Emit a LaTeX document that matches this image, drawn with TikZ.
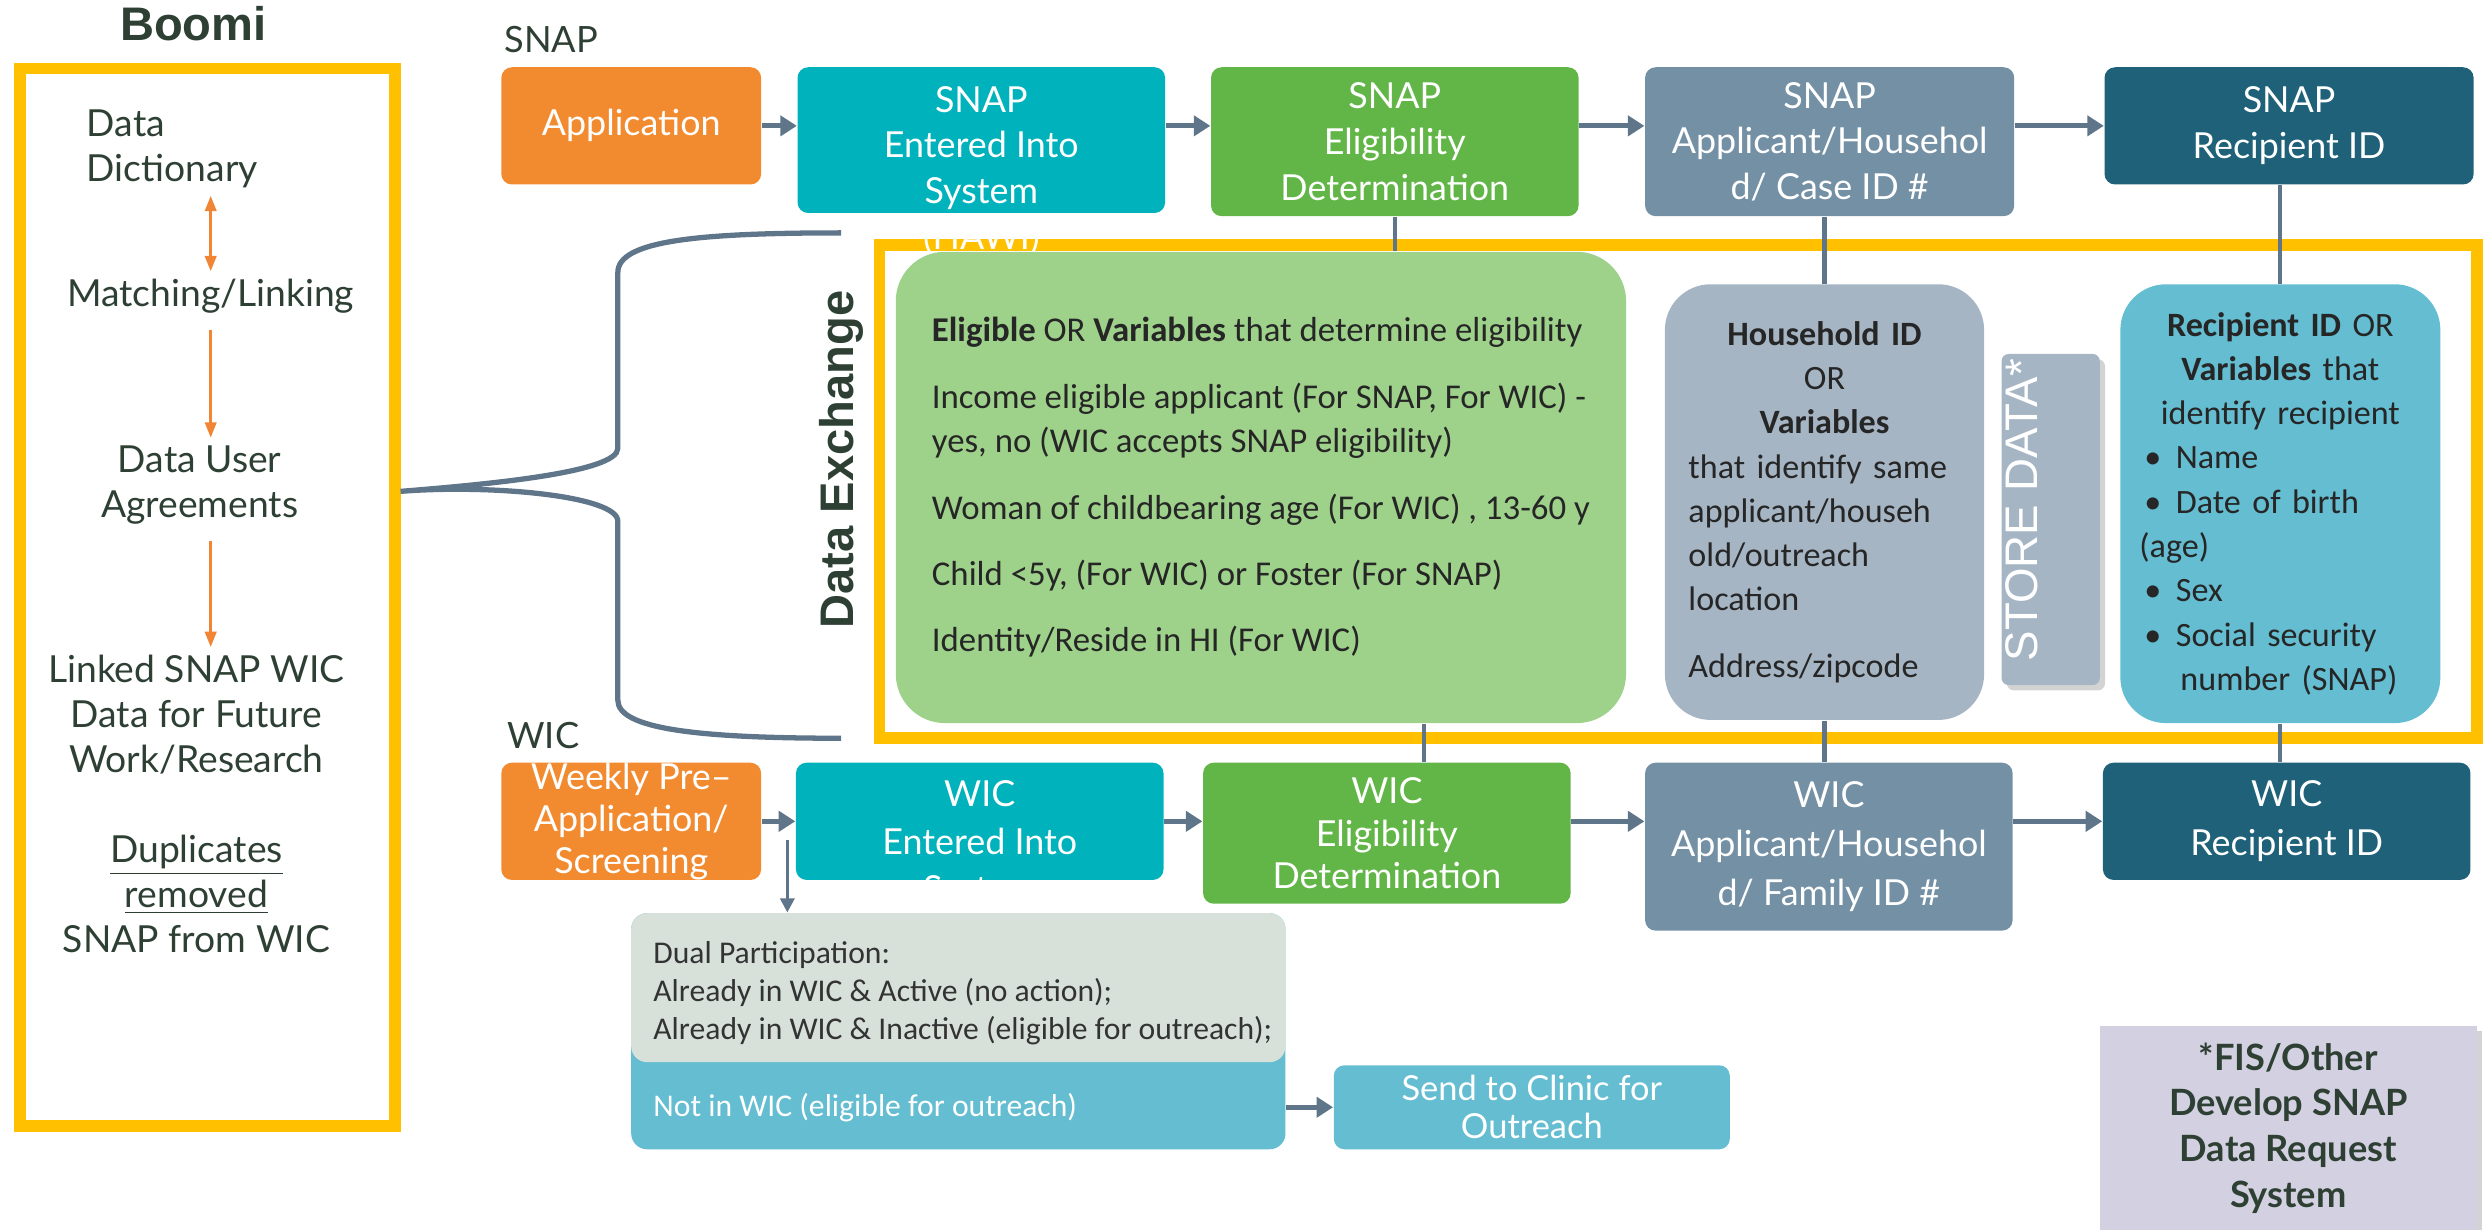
\documentclass[tikz,border=0pt]{standalone}
\usepackage{fontspec}
\setmainfont{Lato}
\newfontfamily\calibrifont{Carlito}
\newfontfamily\arialfont{Liberation Sans}
\usetikzlibrary{calc,positioning,arrows.meta,shadows}
\setlength{\parindent}{0pt}
\definecolor{boomiyellow}{HTML}{FFC000}
\definecolor{apporange}{HTML}{F28B30}
\definecolor{entteal}{HTML}{00B2BB}
\definecolor{eliggreen}{HTML}{62B647}
\definecolor{idslate}{HTML}{7390A5}
\definecolor{rcpteal}{HTML}{1E6178}
\definecolor{varsgreen}{HTML}{9ED28B}
\definecolor{hhgray}{HTML}{A5B5C4}
\definecolor{rcpblue}{HTML}{64BDD1}
\definecolor{dualgray}{HTML}{D7E1DA}
\definecolor{fislav}{HTML}{D3D1E1}
\definecolor{linkslate}{HTML}{5F7589}
\definecolor{arrorange}{HTML}{F08535}
\definecolor{darktext}{HTML}{2E4034}
\newcommand{\rcpbullet}{\hspace*{1.4pt}\makebox[9pt][l]{\textbullet}}
\tikzset{
    boxsize/.style 2 args={minimum width=#1*0.01584cm, minimum height=#2*0.01584cm},
    yellowframe/.style={draw=boomiyellow, line width=3.3pt, anchor=north west, inner sep=0pt},
    titletext/.style={font=\arialfont\bfseries\fontsize{13.4}{16}\selectfont, text=darktext, inner sep=0pt},
    rowlabel/.style={font=\fontsize{10.3}{12}\selectfont, text=darktext, inner sep=0pt},
    paneltext/.style={font=\fontsize{10.6}{12.8}\selectfont, text=darktext, align=center, inner sep=2pt},
    flowbox/.style={rectangle, rounded corners=3pt, anchor=north west, inner sep=0pt,
        text=white, align=center, font=\fontsize{10.2}{13}\selectfont},
    flowtext/.style={text=white, align=center, inner sep=0pt, font=\fontsize{10.2}{13}\selectfont},
    varbox/.style={rectangle, rounded corners=14pt, anchor=north west, inner sep=0pt,
        text=black!85, font=\calibrifont\fontsize{9.7}{12.6}\selectfont},
    storebox/.style={rectangle, rounded corners=2pt, fill=hhgray, anchor=north west,
        drop shadow={shadow xshift=1.5pt, shadow yshift=-1.5pt, opacity=0.35}},
    storetext/.style={font=\arialfont\fontsize{13}{15}\selectfont, text=white, inner sep=0pt},
    dualpanel/.style={rectangle, rounded corners=4.5pt, anchor=north west, inner sep=0pt},
    dualtext/.style={font=\calibrifont\fontsize{9}{10.8}\selectfont, text=black!80, inner sep=0pt, align=left},
    fisbox/.style={rectangle, fill=fislav, anchor=north west, align=center, text=darktext,
        font=\bfseries\fontsize{10.3}{13}\selectfont,
        drop shadow={shadow xshift=1.5pt, shadow yshift=-1.5pt, opacity=0.35}},
    dxlabel/.style={font=\arialfont\bfseries\fontsize{13.4}{16}\selectfont, text=darktext, inner sep=0pt},
    flowarrow/.style={draw=linkslate, line width=1.4pt, -{Triangle[length=4.7pt, width=5.7pt]}},
    thinarrow/.style={draw=linkslate, line width=0.9pt, -{Triangle[length=4pt, width=4pt]}},
    linkline/.style={draw=linkslate, line width=1.2pt},
    bracestyle/.style={draw=linkslate, line width=1.5pt},
    orangearrow/.style={draw=arrorange, line width=0.9pt, shorten <=2.5pt, -{Triangle[length=4.4pt, width=3.2pt]}},
    orangeboth/.style={draw=arrorange, line width=0.9pt, {Triangle[length=4.4pt, width=3.2pt]}-{Triangle[length=4.4pt, width=3.2pt]}}
}
\begin{document}
\begin{tikzpicture}[x=0.01584cm, y=-0.01584cm]
    \useasboundingbox (0,0) rectangle (1568,776);
    % Boomi panel
    \node[titletext] (boomi) at (122,15) {Boomi};
    \node[yellowframe, boxsize={236.5}{667.5}] (boomibox) at (9,39.5) {};
    \node[paneltext, align=left, anchor=west] (dict) at (50,94) {Data\\Dictionary};
    \node[paneltext] (match) at (133,187) {Matching/Linking};
    \node[paneltext] (agree) at (126,306) {Data User\\Agreements};
    \node[paneltext] (linked) at (124,451) {Linked SNAP WIC\\Data for Future\\Work/Research};
    \node[paneltext] (dups) at (124,564) {\underline{Duplicates}\\\underline{removed}\\SNAP from WIC};
    \draw[orangeboth] (dict.south -| match.north) -- (match.north);
    \draw[orangearrow] (match.south) -- (agree.north -| match.south);
    \draw[orangearrow] (agree.south -| match.south) -- (linked.north -| match.south);

    % data exchange frame and brace
    \node[yellowframe, boxsize={1008.5}{311}] (dxbox) at (551.5,151) {};
    \node[dxlabel, rotate=90] (dxlbl) at (531,290) {Data Exchange};
    \coordinate (bracetop) at (531,147);
    \coordinate (bracebot) at (531,466);
    \coordinate (bracemid) at (boomibox.east |- dxbox.west);
    \draw[bracestyle] (bracetop) .. controls (440,147) and (390,152) .. (390,172) -- (390,283)
        .. controls (390,298) and (310,305.6) .. (bracemid)
        .. controls (310,305.6) and (390,313) .. (390,329) -- (390,442)
        .. controls (390,460) and (440,466) .. (bracebot);

    % SNAP row
    \node[rowlabel] (snaplbl) at (348,25) {SNAP};
    \node[flowbox, fill=apporange, boxsize={164}{74}] (sapp) at (316,42) {Application};
    \node[flowbox, fill=entteal, boxsize={232}{92}] (sent) at (503,42) {};
    \node[flowbox, fill=eliggreen, boxsize={232}{94}] (selig) at (764,42) {SNAP\\Eligibility\\Determination};
    \node[flowbox, fill=idslate, boxsize={233}{94}] (sid) at (1038,42) {SNAP\\Applicant/Househol\\d/ Case ID \#};
    \node[flowbox, fill=rcpteal, boxsize={233}{74}] (srcp) at (1328,42) {SNAP\\Recipient ID};
    \node[flowtext, below=5.4pt of sent.north] (senttxt) {SNAP\\Entered Into\\System\\(HAWI)};
    \draw[flowarrow] (sapp.east) -- (sapp.east -| sent.west);
    \draw[flowarrow] (sent.east |- sapp.east) -- (selig.west |- sapp.east);
    \draw[flowarrow] (selig.east |- sapp.east) -- (sid.west |- sapp.east);
    \draw[flowarrow] (sid.east |- sapp.east) -- (srcp.west |- sapp.east);

    % exchanged variables
    \node[varbox, fill=varsgreen, boxsize={461}{297.5}, align=left, font=\calibrifont\fontsize{9.9}{12.6}\selectfont] (elig) at (565,158.5)
        {\textbf{Eligible} OR \textbf{Variables} that determine eligibility\\[6.3pt]
         Income eligible applicant (For SNAP, For WIC) -\\
         yes, no (WIC accepts SNAP eligibility)\\[6.3pt]
         Woman of childbearing age (For WIC) , 13-60 y\\[6.3pt]
         Child <5y, (For WIC) or Foster (For SNAP)\\[6.3pt]
         Identity/Reside in HI (For WIC)};
    \node[varbox, fill=hhgray, rounded corners=13pt, boxsize={201.5}{275}, text width=2.72cm] (hh) at (1050.5,179)
        {\centering\textbf{Household ID}\\OR\\\textbf{Variables}\par
         \raggedright that identify same\\applicant/househ\\old/outreach\\location\par
         \vspace{6.3pt}\centering Address/zipcode};
    \node[storebox, boxsize={62}{209}] (store) at (1263,223) {};
    \node[storetext, rotate=90] (storetxt) at (1276,322) {STORE DATA*};
    \node[varbox, fill=rcpblue, rounded corners=13pt, boxsize={202}{277}, text width=2.82cm] (rcp) at (1338,179)
        {\centering\textbf{Recipient ID} OR\\\textbf{Variables} that\\identify recipient\par
         \raggedright\rcpbullet Name\\\rcpbullet Date of birth\\(age)\\\rcpbullet Sex\\
         \rcpbullet Social security\\\hspace*{11.7pt}number (SNAP)};

    % WIC row
    \node[rowlabel] (wiclbl) at (343,464) {WIC};
    \node[flowbox, fill=apporange, boxsize={164}{74}, font=\fontsize{10.2}{11.9}\selectfont] (wweek) at (316,481) {Weekly Pre--\\Application/\\Screening};
    \node[flowbox, fill=entteal, boxsize={232}{74}] (went) at (502,481) {};
    \node[flowbox, fill=eliggreen, boxsize={232}{89}, font=\fontsize{10.2}{12.2}\selectfont] (welig) at (759,481) {WIC\\Eligibility\\Determination};
    \node[flowbox, fill=idslate, boxsize={232}{106}, font=\fontsize{10.2}{13.9}\selectfont] (wid) at (1038,481) {WIC\\Applicant/Househol\\d/ Family ID \#};
    \node[flowbox, fill=rcpteal, boxsize={232}{74}, font=\fontsize{10.2}{14}\selectfont] (wrcp) at (1327,481) {WIC\\Recipient ID};
    \node[flowtext, below=5pt of went.north, font=\fontsize{10.2}{13.6}\selectfont] (wenttxt) {WIC\\Entered Into\\System};
    \draw[flowarrow] (wweek.east) -- (wweek.east -| went.west);
    \draw[flowarrow] (went.east |- wweek.east) -- (welig.west |- wweek.east);
    \draw[flowarrow] (welig.east |- wweek.east) -- (wid.west |- wweek.east);
    \draw[flowarrow] (wid.east |- wweek.east) -- (wrcp.west |- wweek.east);

    % links between rows and exchange boxes
    \coordinate (eliglow) at ($(welig.north west)!0.6!(welig.north east)$);
    \draw[linkline] (selig.south) -- (selig.south |- elig.north);
    \draw[linkline] (hh.north |- sid.south) -- (hh.north);
    \draw[linkline] (rcp.north |- srcp.south) -- (rcp.north);
    \draw[linkline] (eliglow |- elig.south) -- (eliglow);
    \draw[linkline] (hh.south) -- (hh.south |- wid.north);
    \draw[linkline] (rcp.south) -- (rcp.south |- wrcp.north);

    % dual participation
    \node[dualpanel, fill=rcpblue, boxsize={413}{149}] (dualbox) at (398,576) {};
    \node[dualpanel, fill=dualgray, boxsize={413}{94}] (dualtop) at (398,576) {};
    \node[dualtext, anchor=west] (dualtxt) at (412,627) {Dual Participation:\\Already in WIC \& Active (no action);\\Already in WIC \& Inactive (eligible for outreach);};
    \node[dualtext, text=white, anchor=west] (notwic) at (412,699) {Not in WIC (eligible for outreach)};
    \node[flowbox, fill=rcpblue, boxsize={250}{53}, font=\fontsize{9.8}{10.8}\selectfont] (send) at (841.5,672) {Send to Clinic for\\Outreach};
    \coordinate (dualsplit) at (497,530);
    \draw[thinarrow] (dualsplit) -- (dualsplit |- dualtop.north);
    \draw[flowarrow] (dualbox.east |- send.west) -- (send.west);

    \node[fisbox, boxsize={238}{129}] (fis) at (1325,647) {*FIS/Other\\Develop SNAP\\Data Request\\System};
\end{tikzpicture}
\end{document}
